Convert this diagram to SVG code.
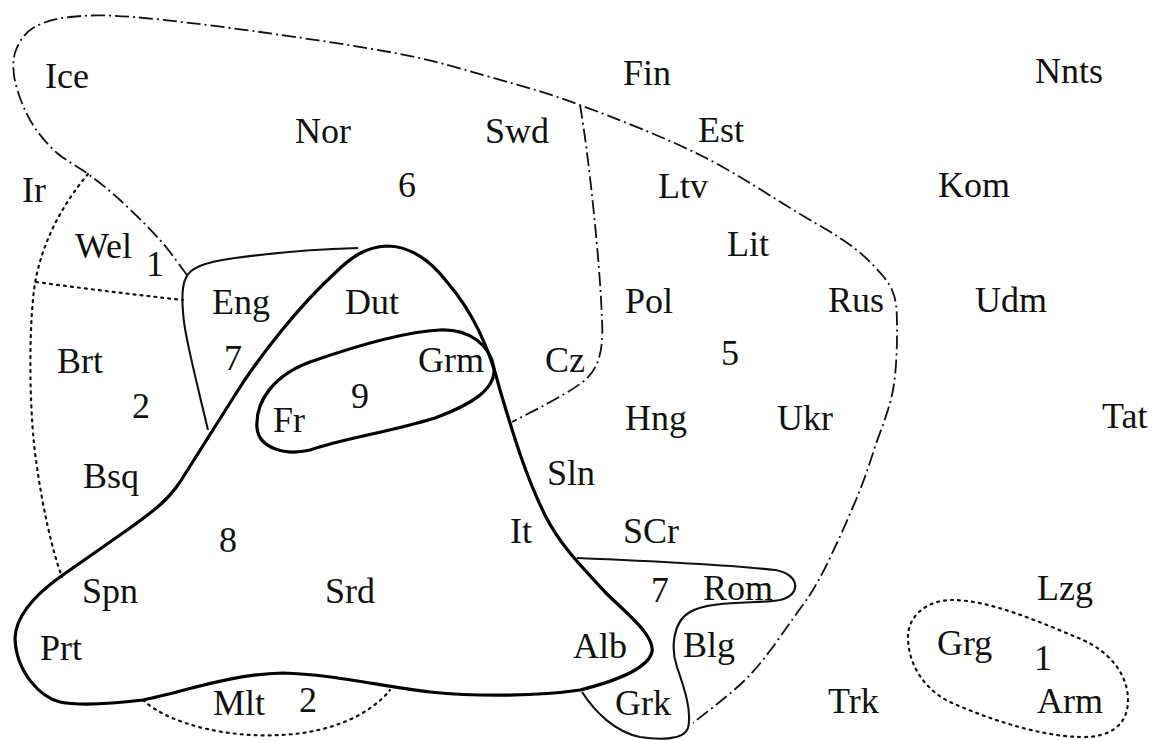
<svg xmlns="http://www.w3.org/2000/svg" width="1156" height="740" viewBox="0 0 1156 740">
<style>
.dd{fill:none;stroke:#111;stroke-width:1.8;stroke-dasharray:14 4 2 4}
.dt{fill:none;stroke:#111;stroke-width:2.2;stroke-dasharray:2 5;stroke-linecap:round}
.thin{fill:none;stroke:#111;stroke-width:2.1}
.thick{fill:none;stroke:#000;stroke-width:3.2;stroke-linejoin:round}
text{font-family:"Liberation Serif","Times New Roman",serif;font-size:36px;fill:#111}
</style>
<rect width="1156" height="740" fill="#fff"/>
<g id="connectors">
<path id="outer-dashdot" class="dd" d="M187,275 C182.5,269.2 171.2,252.5 160,240 C148.8,227.5 132,211 120,200 C108,189 98.5,181.8 88,174 C77.5,166.2 65.8,160.7 57,153 C48.2,145.3 40.8,136.3 35,128 C29.2,119.7 25.5,111.8 22,103 C18.5,94.2 15,83.8 14,75 C13,66.2 12.8,57.8 16,50 C19.2,42.2 24,33.5 33,28 C42,22.5 53.3,18.8 70,17 C86.7,15.2 101.3,14.5 133,17 C164.7,19.5 215.5,25.8 260,32 C304.5,38.2 361.7,46.5 400,54 C438.3,61.5 460,68.5 490,77 C520,85.5 545,92 580,105 C615,118 663.3,136.8 700,155 C736.7,173.2 776.2,199.8 800,214 C823.8,228.2 831.3,232 843,240 C854.7,248 861.8,253.7 870,262 C878.2,270.3 887.5,279.5 892,290 C896.5,300.5 896.8,308.3 897,325 C897.2,341.7 896.7,369.7 893,390 C889.3,410.3 880.5,430.3 875,447 C869.5,463.7 866.3,474 860,490 C853.7,506 844.2,527.5 837,543 C829.8,558.5 823.7,571.3 817,583 C810.3,594.7 808.2,597.7 797,613 C785.8,628.3 767.3,656.7 750,675 C732.7,693.3 702.5,715 693,723"/>
<path id="branch-dashdot" class="dd" d="M580,105 C588,150 600,260 602,320 C604,355 597,372 580,384 C560,398 535,410 512,422"/>
<path id="dotted-west" class="dt" d="M88,174 C62,205 40,245 34,290 C28,340 30,420 36,460 C42,505 52,550 62,577"/>
<path id="dotted-wel" class="dt" d="M36,282 Q110,292 183,300"/>
<path id="dotted-mlt" class="dt" d="M143,700 C170,725 230,738 280,735 C330,733 370,715 390,690"/>
<path id="dotted-grg" class="dt" d="M908,637 C908,615 928,600 952,600 C990,600 1040,622 1083,640 C1110,652 1128,675 1128,700 C1128,725 1110,738 1080,737 C1040,736 990,720 950,702 C925,690 908,665 908,637 Z"/>
<path id="thin-eng-top" class="thin" d="M185,280 C188,268 205,262 235,258 C280,252 320,249 358,248"/>
<path id="thin-eng-left" class="thin" d="M185,280 C181,290 182,305 184,322 C187,345 195,375 208,430"/>
<path id="thin-balkan" class="thin" d="M577,558 C650,561 730,565 775,570 C800,574 802,595 780,600 C760,604 710,600 690,612 C672,622 671,650 677,667 C685,690 692,712 688,728 C684,740 660,740 640,737 C615,732 595,712 582,692"/>
<path id="thick-8" class="thick" d="M60,577 L130,528 C155,510 168,500 180,482 L235,395 C260,355 300,305 335,273 C350,258 365,247 387,246 C410,246 430,260 447,282 C473,312 490,350 500,390 C512,430 525,475 545,515 C560,545 580,565 605,592 C625,612 655,635 652,652 C648,668 620,680 580,690 C540,696 480,697 430,692 C380,686 330,674 283,673 C230,674 180,693 143,700 C110,704 80,706 60,702 C40,697 16,672 15,638 C16,615 35,595 60,577 Z"/>
<path id="thick-9" class="thick" d="M257,428 C255,400 275,375 310,362 C350,348 400,332 440,330 C470,329 490,345 494,368 C496,390 470,405 435,418 C390,432 345,438 310,450 C285,456 259,448 257,428 Z"/>
</g>
<g id="labels">
<text x="45" y="88">Ice</text>
<text x="623" y="85">Fin</text>
<text x="1035" y="83">Nnts</text>
<text x="295" y="143">Nor</text>
<text x="485" y="143">Swd</text>
<text x="698" y="142">Est</text>
<text x="22" y="202">Ir</text>
<text x="398" y="197">6</text>
<text x="658" y="198">Ltv</text>
<text x="938" y="197">Kom</text>
<text x="75" y="258">Wel</text>
<text x="146" y="276">1</text>
<text x="727" y="256">Lit</text>
<text x="212" y="314">Eng</text>
<text x="345" y="314">Dut</text>
<text x="625" y="313">Pol</text>
<text x="828" y="312">Rus</text>
<text x="975" y="312">Udm</text>
<text x="57" y="373">Brt</text>
<text x="224" y="370">7</text>
<text x="418" y="372">Grm</text>
<text x="545" y="372">Cz</text>
<text x="721" y="365">5</text>
<text x="132" y="418">2</text>
<text x="351" y="408">9</text>
<text x="273" y="432">Fr</text>
<text x="625" y="430">Hng</text>
<text x="777" y="430">Ukr</text>
<text x="1102" y="428">Tat</text>
<text x="83" y="488">Bsq</text>
<text x="547" y="485">Sln</text>
<text x="219" y="552">8</text>
<text x="510" y="543">It</text>
<text x="623" y="543">SCr</text>
<text x="82" y="603">Spn</text>
<text x="325" y="603">Srd</text>
<text x="651" y="602">7</text>
<text x="703" y="600">Rom</text>
<text x="1037" y="600">Lzg</text>
<text x="40" y="660">Prt</text>
<text x="573" y="658">Alb</text>
<text x="683" y="657">Blg</text>
<text x="937" y="655">Grg</text>
<text x="1034" y="670">1</text>
<text x="213" y="715">Mlt</text>
<text x="299" y="712">2</text>
<text x="615" y="715">Grk</text>
<text x="828" y="713">Trk</text>
<text x="1037" y="713">Arm</text>
</g>
</svg>
